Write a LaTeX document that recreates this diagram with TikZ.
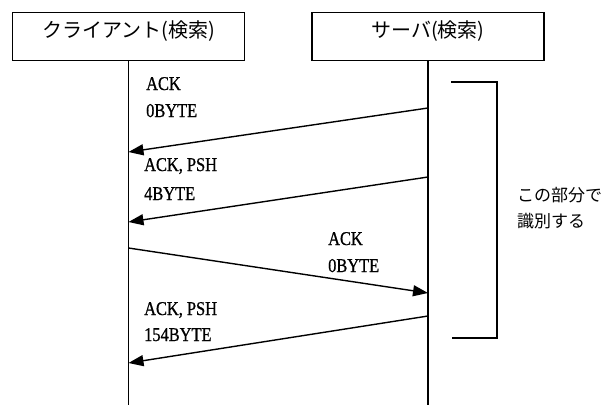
\documentclass[tikz,border=0pt]{standalone}
\usepackage{fontspec}
\setmainfont{Liberation Serif}
\newfontfamily\lat[FakeStretch=0.84,FakeBold=0.8]{Liberation Serif}
\newfontfamily\jp{Noto Sans CJK JP}
\usetikzlibrary{arrows.meta}
\begin{document}
\begin{tikzpicture}[x=1pt,y=-1pt,
  actor/.style={draw,line width=1.3pt,minimum width=232pt,inner xsep=0pt,inner ysep=0pt,
    text height=25pt,text depth=23pt,anchor=north,font=\jp\fontsize{20}{24}\selectfont},
  life/.style={line width=1.3pt},
  msg/.style={line width=1.4pt,-{Triangle[length=15pt,width=11pt]}},
  lbl/.style={anchor=base west,inner sep=0pt,font=\lat\fontsize{19.5}{22}\selectfont},
  note/.style={anchor=base west,inner sep=0pt,font=\jp\fontsize{17}{20}\selectfont}]
\useasboundingbox (0,0) rectangle (615,405);
\node[actor] (client) at (128.5,12) {クライアント(検索)};
\node[actor] (server) at (428,12) {サーバ(検索)};
\coordinate (cend) at (128.5,405);
\coordinate (send) at (428,405);
\draw[life] (client.south) -- (cend);
\draw[life] (server.south) -- (send);
\coordinate (s1) at (428,108); \coordinate (c1) at (128.5,152);
\coordinate (s2) at (428,177); \coordinate (c2) at (128.5,222);
\coordinate (c3) at (128.5,248); \coordinate (s3) at (428,293);
\coordinate (s4) at (428,316); \coordinate (c4) at (128.5,363);
\draw[msg] (s1) -- (c1);
\draw[msg] (s2) -- (c2);
\draw[msg] (c3) -- (s3);
\draw[msg] (s4) -- (c4);
\node[lbl] (l1a) at (146,90) {ACK};
\node[lbl] (l1b) at (146,117) {0BYTE};
\node[lbl] (l2a) at (144,171) {ACK, PSH};
\node[lbl] (l2b) at (144,200) {4BYTE};
\node[lbl] (l3a) at (328,245) {ACK};
\node[lbl] (l3b) at (328,272) {0BYTE};
\node[lbl] (l4a) at (144,315) {ACK, PSH};
\node[lbl] (l4b) at (144,341) {154BYTE};
\coordinate (b1) at (451,82); \coordinate (b2) at (497,82);
\coordinate (b3) at (497,338); \coordinate (b4) at (452,338);
\draw[line width=1.3pt] (b1) -- (b2) -- (b3) -- (b4);
\node[note] (n1) at (517,201) {この部分で};
\node[note] (n2) at (517,227) {識別する};
\end{tikzpicture}
\end{document}
